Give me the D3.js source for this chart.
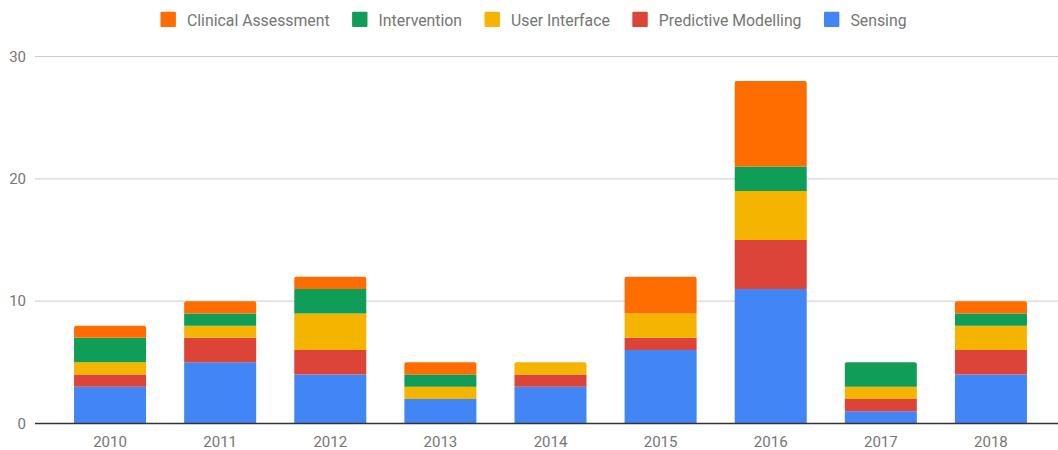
<!DOCTYPE html>
<html><head><meta charset="utf-8">
<script src="https://cdn.jsdelivr.net/npm/d3@7"></script>
<style>body{margin:0;background:#fff;font-family:Roboto,"Noto Sans",sans-serif;}</style>
</head><body><svg id="chart" width="1058" height="450"></svg>
<script>
const years = ["2010","2011","2012","2013","2014","2015","2016","2017","2018"];
const sensing = [3,5,4,2,3,6,11,1,4];
const predictive = [1,2,2,0,1,1,4,1,2];
const userInterface = [1,1,3,1,1,2,4,1,2];
const intervention = [2,1,2,1,0,0,2,2,1];
const clinical = [1,1,1,1,0,3,7,0,1];
const seriesNames = ["Sensing","Predictive Modelling","User Interface","Intervention","Clinical Assessment"];
const seriesColors = ["#4285F4","#DB4437","#F4B400","#0F9D58","#FF6D01"];
const legendOrder = ["Clinical Assessment","Intervention","User Interface","Predictive Modelling","Sensing"];
const yTicks = [0,10,20,30];

const svg = d3.select("#chart");
const seriesValues = [sensing,predictive,userInterface,intervention,clinical];
const rows = years.map((y,i)=>{const r={year:y}; seriesNames.forEach((s,k)=>r[s]=seriesValues[k][i]); return r;});
const stack = d3.stack().keys(seriesNames)(rows);
const color = d3.scaleOrdinal().domain(seriesNames).range(seriesColors);

const x = d3.scaleBand().domain(years).range([55,1046]).paddingInner(0.346).paddingOuter(0.173);
const y = d3.scaleLinear().domain([0,30]).range([423.5,56.5]);

// grid
svg.append("g").selectAll("line").data(yTicks.filter(t=>t>0)).join("line")
  .attr("x1",35).attr("x2",1058).attr("y1",d=>y(d)).attr("y2",d=>y(d))
  .attr("stroke","#cccccc").attr("stroke-width",1);
svg.append("g").selectAll("text").data(yTicks).join("text")
  .attr("x",26).attr("y",d=>y(d)+5.3).attr("text-anchor","end")
  .attr("font-size",15).attr("fill","#757575").text(d=>d);

// bars
const topIdx = years.map((yr,i)=>{let t=-1; seriesValues.forEach((v,k)=>{if(v[i]>0)t=k;}); return t;});
svg.append("g").selectAll("g").data(stack).join("g").attr("fill",d=>color(d.key))
  .each(function(layer,k){
    d3.select(this).selectAll("path").data(layer.filter(d=>d[1]>d[0])).join("path")
      .attr("d",d=>{
        const i = years.indexOf(d.data.year);
        const x0=x(d.data.year), w=x.bandwidth(), yt=y(d[1]), yb=y(d[0]);
        const r = (topIdx[i]===k)?2:0;
        return `M${x0},${yb}V${yt+r}Q${x0},${yt} ${x0+r},${yt}H${x0+w-r}Q${x0+w},${yt} ${x0+w},${yt+r}V${yb}Z`;
      });
  });

// baseline
svg.append("line").attr("x1",35).attr("x2",1058).attr("y1",y(0)).attr("y2",y(0))
  .attr("stroke","#333333").attr("stroke-width",1.5);

// x labels
svg.append("g").selectAll("text").data(years).join("text")
  .attr("x",d=>x(d)+x.bandwidth()/2).attr("y",447).attr("text-anchor","middle")
  .attr("font-size",15).attr("fill","#757575").text(d=>d);

// legend
const lg = svg.append("g");
let lx = 160.5;
legendOrder.forEach(name=>{
  lg.append("rect").attr("x",lx).attr("y",11.7).attr("width",15.4).attr("height",15.4).attr("rx",1)
    .attr("fill",color(name));
  const t = lg.append("text").attr("x",lx+26.5).attr("y",26).attr("font-size",15.8)
    .attr("fill","#757575").text(name);
  lx += 26.5 + t.node().getComputedTextLength() + 22.5;
});
</script></body></html>
